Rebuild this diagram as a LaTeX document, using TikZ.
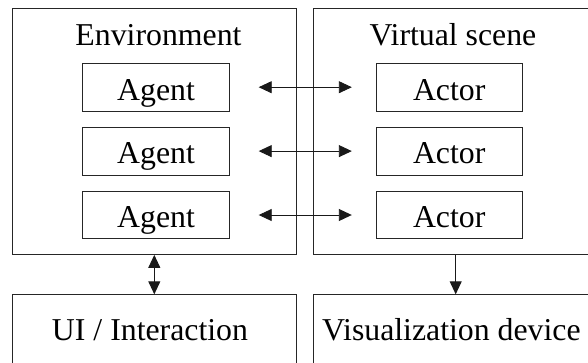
\documentclass[tikz,border=0pt]{standalone}
\usepackage{fontspec}
\setmainfont{Liberation Serif}
\usetikzlibrary{arrows.meta}
\begin{document}
\begin{tikzpicture}[x=1pt,y=1pt,
  box/.style={draw=black!85, line width=0.9pt, inner sep=0pt, anchor=north west},
  small/.style={draw=black!85, line width=0.9pt, inner sep=0pt, minimum width=146.5pt, minimum height=47.7pt,
    text height=28pt, text depth=2.4pt, font=\fontsize{31.8}{36}\selectfont},
  lbl/.style={inner sep=0pt, anchor=base, font=\fontsize{31.8}{36}\selectfont},
  conn/.style={line width=0.9pt, black!90, arrows={-Triangle[length=13pt,width=12pt]}},
  dconn/.style={line width=0.9pt, black!90, arrows={Triangle[length=13pt,width=12pt]-Triangle[length=13pt,width=12pt]}}]
\useasboundingbox (0,0) rectangle (588,-362);
\clip (0,0) rectangle (588,-362);
\node[box, minimum width=284.3pt, minimum height=245.7pt] (env) at (11.7,-8.3) {};
\node[box, minimum width=277.3pt, minimum height=245.7pt] (vs) at (312.7,-8.3) {};
\node[box, minimum width=284.3pt, minimum height=90pt] (ui) at (11.7,-294.3) {};
\node[box, minimum width=277.3pt, minimum height=90pt] (vis) at (312.7,-294.3) {};
\node[lbl] (envt) at (158.5,-45) {Environment};
\node[lbl] (vst) at (453,-45) {Virtual scene};
\node[lbl] (uit) at (150,-340.5) {UI / Interaction};
\node[lbl] (vist) at (451.4,-340.5) {Visualization device};
\node[small] (ag1) at (156,-87.2) {Agent};
\node[small] (ag2) at (156,-151.1) {Agent};
\node[small] (ag3) at (156,-215) {Agent};
\node[small] (ac1) at (449.2,-87.2) {Actor};
\node[small] (ac2) at (449.2,-151.1) {Actor};
\node[small] (ac3) at (449.2,-215) {Actor};
\draw[dconn, shorten <=29pt, shorten >=23.7pt] (ag1) -- (ac1);
\draw[dconn, shorten <=29pt, shorten >=23.7pt] (ag2) -- (ac2);
\draw[dconn, shorten <=29pt, shorten >=23.7pt] (ag3) -- (ac3);
\coordinate (lx) at (154.3,0);
\coordinate (rx) at (455.7,0);
\draw[dconn] (env.south -| lx) -- (ui.north -| lx);
\draw[conn] (vs.south -| rx) -- (vis.north -| rx);
\end{tikzpicture}
\end{document}
